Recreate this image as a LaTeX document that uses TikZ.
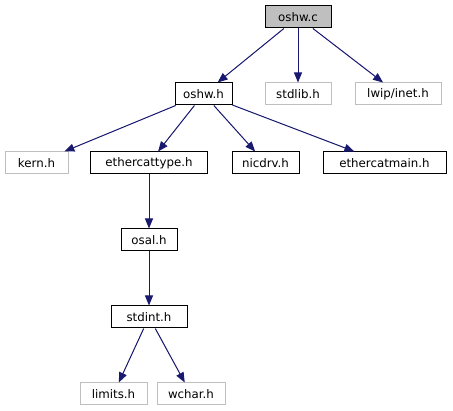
\documentclass[tikz,border=0pt]{standalone}
\usepackage{fontspec}
\setmainfont{DejaVu Sans}
\usetikzlibrary{arrows.meta}
\definecolor{edgeblue}{HTML}{191970}
\definecolor{grayfill}{HTML}{BFBFBF}
\definecolor{grayline}{HTML}{BFBFBF}
\tikzset{
  hdr/.style={draw=black, line width=1pt, fill=white, minimum height=22pt, inner sep=0pt, font=\fontsize{11.8}{13}\selectfont, anchor=center},
  sys/.style={hdr, draw=grayline},
  cur/.style={hdr, fill=grayfill},
  dep/.style={draw=edgeblue, line width=1pt, -{Triangle[length=10pt,width=8pt]}, fill=edgeblue}
}
\begin{document}
\begin{tikzpicture}[x=1pt,y=-1pt]
\useasboundingbox (0,0) rectangle (453,411);
\node[cur, minimum width=66pt] (oshwc) at (298,17) {oshw.c};
\node[hdr, minimum width=57pt] (oshwh) at (203.5,94) {oshw.h};
\node[sys, minimum width=66pt] (stdlib) at (298,94) {stdlib.h};
\node[sys, minimum width=86pt] (inet) at (398,94) {lwip/inet.h};
\node[sys, minimum width=63pt] (kern) at (36.5,163) {kern.h};
\node[hdr, minimum width=117pt] (ecttype) at (149,163) {ethercattype.h};
\node[hdr, minimum width=67pt] (nicdrv) at (265.5,163) {nicdrv.h};
\node[hdr, minimum width=123pt] (ectmain) at (384.5,163) {ethercatmain.h};
\node[hdr, minimum width=56pt] (osal) at (149,240) {osal.h};
\node[hdr, minimum width=76pt] (stdint) at (149,317) {stdint.h};
\node[sys, minimum width=67pt] (limits) at (113.5,394) {limits.h};
\node[sys, minimum width=68pt] (wchar) at (191,394) {wchar.h};
\draw[dep] (oshwc) -- (oshwh);
\draw[dep] (oshwc) -- (stdlib);
\draw[dep] (oshwc) -- (inet);
\draw[dep] (oshwh) -- (kern);
\draw[dep] (oshwh) -- (ecttype);
\draw[dep] (oshwh) -- (nicdrv);
\draw[dep] (oshwh) -- (ectmain);
\draw[dep] (ecttype) -- (osal);
\draw[dep] (osal) -- (stdint);
\draw[dep] (stdint) -- (limits);
\draw[dep] (stdint) -- (wchar);
\end{tikzpicture}
\end{document}
